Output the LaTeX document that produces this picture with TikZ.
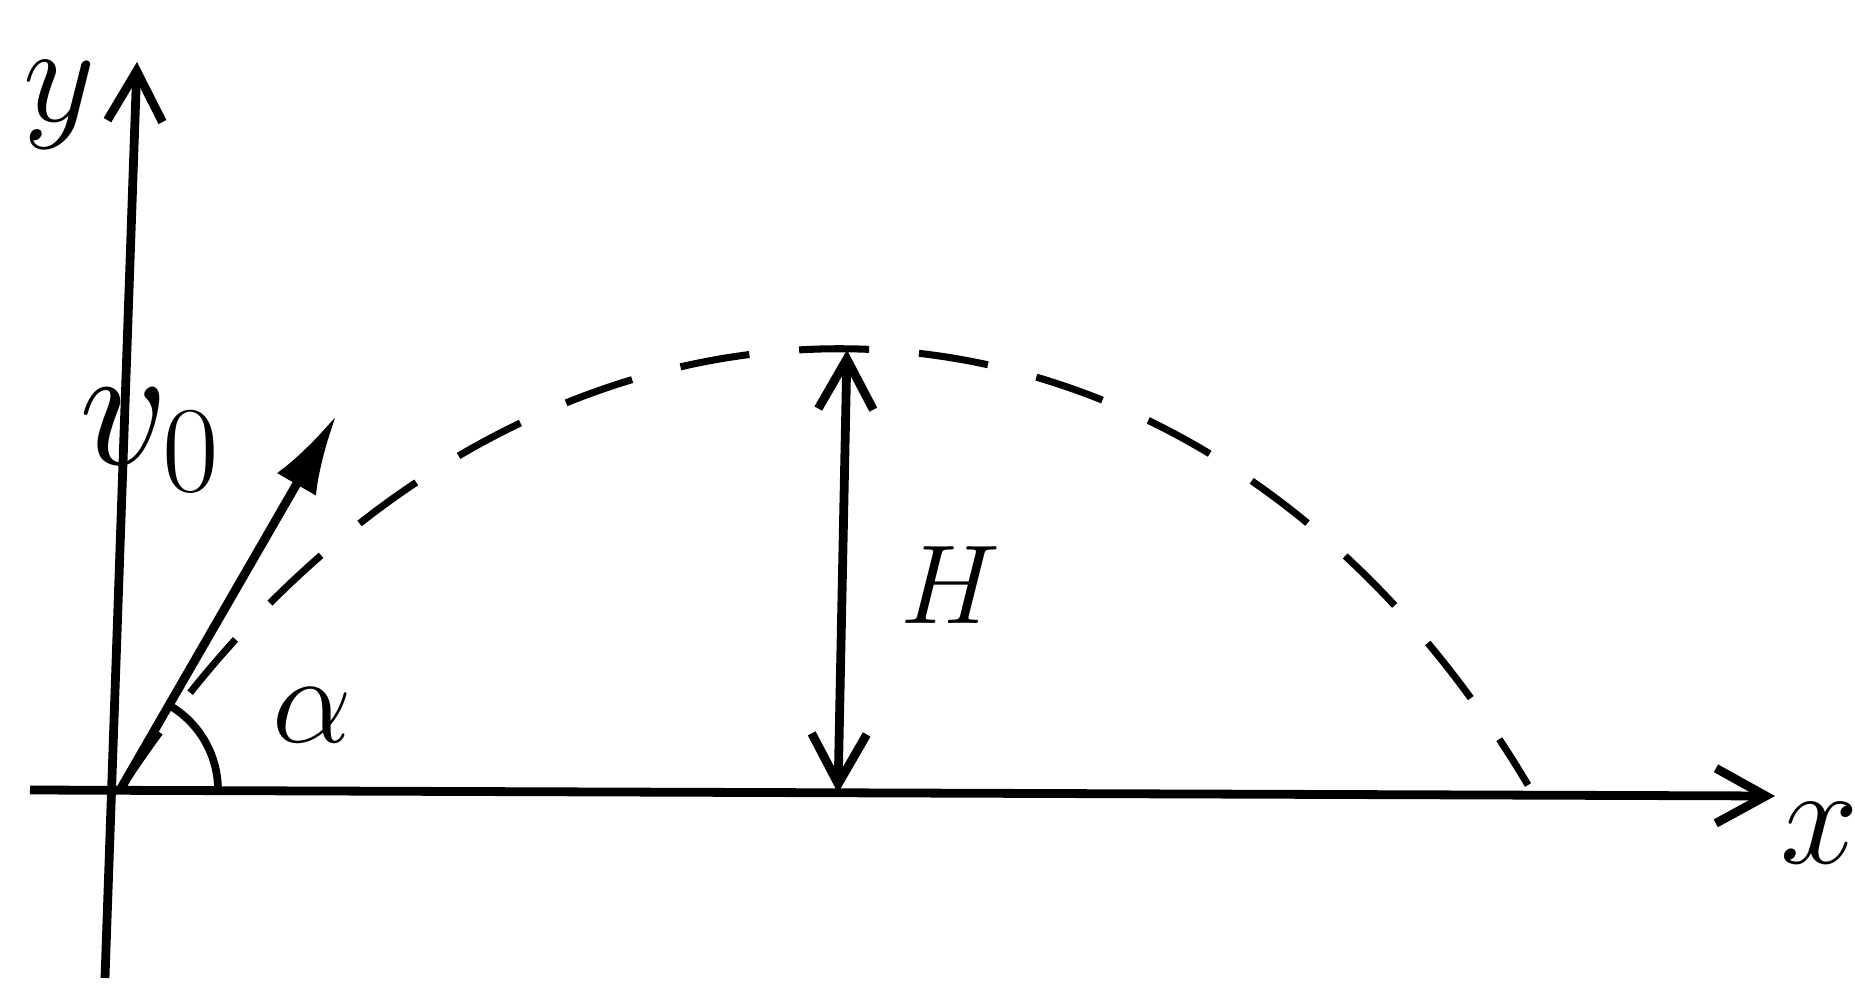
\RequirePackage{fix-cm}
\documentclass[tikz,border=0pt]{standalone}
\usepackage{amsmath}
\usepackage{tikz}
\usetikzlibrary{arrows.meta}

\begin{document}
\begin{tikzpicture}[
    axisline/.style={line width=2.5pt},
    barb/.tip={Straight Barb[length=5mm,width=5.5mm]},
    lbl/.style={inner sep=0pt,font=\fontsize{#1}{#1}\selectfont}]
    \useasboundingbox (-1.20,-1.96) rectangle (17.35,7.90);
    % Axes
    \coordinate (O) at (0,0);
    \coordinate (xl) at (-0.90,0);
    \coordinate (xr) at (16.55,-0.06);
    \coordinate (yb) at (-0.15,-1.88);
    \coordinate (yt) at (0.17,7.28);
    \draw[axisline,-{barb}] (xl) -- (xr);
    \draw[axisline,-{barb}] (yb) -- (yt);
    \node[lbl=40] (ylab) at (-0.60,6.85) {$y$};
    \node[lbl=40] (xlab) at (17.0,-0.43) {$x$};
    % Launch velocity and angle
    \coordinate (vtip) at (60:4.33);
    \draw[axisline,-{Latex[length=8mm,width=4.5mm]}] (O) -- (vtip);
    \node[lbl=50] (vlab) at (0.30,3.50) {$v_0$};
    \draw[line width=2.2pt] (0.98,0) arc[start angle=0,end angle=60,radius=0.98];
    \node[lbl=36] (alab) at (1.92,0.75) {$\alpha$};
    % Trajectory
    \coordinate (land) at (14.08,0.05);
    \draw[line width=2pt,dash pattern=on 7mm off 5mm]
        (O) .. controls (3.80,5.85) and (10.60,5.90) .. (land);
    % Maximum height
    \coordinate (Hb) at (7.18,-0.03);
    \coordinate (Ht) at (7.27,4.40);
    \draw[axisline,{barb}-{barb}] (Hb) -- (Ht);
    \node[lbl=32] (Hlab) at (8.30,2.05) {$H$};
\end{tikzpicture}
\end{document}
